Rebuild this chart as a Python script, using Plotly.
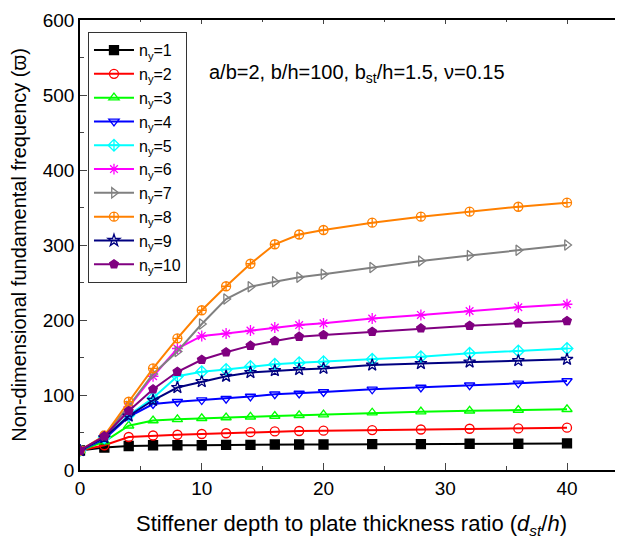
import plotly.graph_objects as go

x_ratio = [0, 2, 4, 6, 8, 10, 12, 14, 16, 18, 20, 24, 28, 32, 36, 40]
series_names = ["n<sub>y</sub>=1", "n<sub>y</sub>=2", "n<sub>y</sub>=3", "n<sub>y</sub>=4", "n<sub>y</sub>=5",
                "n<sub>y</sub>=6", "n<sub>y</sub>=7", "n<sub>y</sub>=8", "n<sub>y</sub>=9", "n<sub>y</sub>=10"]
ny1 = [26, 30, 32, 33, 33, 33, 33.5, 33.5, 34, 34, 34, 34.5, 34.5, 35, 35, 35.5]
ny2 = [26, 33, 44, 46, 47, 48, 49, 50.5, 51.5, 52, 52.4, 53.3, 54, 55, 55.5, 56.4]
ny3 = [26, 38, 59, 66, 67.6, 69, 70, 71, 72, 73, 73.8, 76.4, 77.8, 79, 80, 81]
ny4 = [26, 41, 71, 88, 91, 93.3, 95, 98, 101, 102, 104, 107.6, 110, 113, 115.6, 118.7]
ny5 = [26, 43, 73, 96, 125, 131, 134, 138, 141, 143, 144.4, 147.6, 151, 155.6, 158.7, 162]
ny6 = [26, 45, 84, 125, 162, 178.7, 182, 186, 190, 193.3, 195.6, 202, 206.7, 212, 217, 221]
ny7 = [26, 45, 85, 128, 158, 194.7, 228, 244.4, 251, 257, 261, 270, 278.7, 286, 293, 300]
ny8 = [26, 46, 91, 135.6, 175.6, 213, 245, 275, 301, 314, 320, 329.8, 337.8, 344.4, 351, 356.4]
ny9 = [26, 43, 72, 93, 110, 117.8, 125, 130, 132.4, 134, 135.5, 140, 142, 144, 145.8, 147.6]
ny10 = [26, 45, 78.7, 107.6, 131, 147, 157, 165.8, 172, 177.8, 180, 184.4, 188.9, 192.4, 195.6, 198.7]
all_series = [ny1, ny2, ny3, ny4, ny5, ny6, ny7, ny8, ny9, ny10]

colors = ["#000000", "#FF0000", "#00FF00", "#0000FF", "#00FFFF", "#FF00FF", "#808080", "#FF8000", "#000080", "#800080"]
symbols = ["square", "circle-open", "triangle-up-open", "triangle-down-open", "diamond-cross-open",
           "asterisk-open", "triangle-right-open", "circle-cross-open", "star-open", "pentagon"]

fig = go.Figure()
for name, ys, c, s in zip(series_names, all_series, colors, symbols):
    fig.add_trace(go.Scatter(
        x=x_ratio, y=ys, name=name, mode="lines+markers",
        line=dict(color=c, width=2),
        marker=dict(symbol=s, size=9, color=c, line=dict(color=c, width=1.3)),
    ))

# invisible trace to activate the top axis
fig.add_trace(go.Scatter(x=[0], y=[0], xaxis="x2", showlegend=False, hoverinfo="skip",
                         mode="markers", marker=dict(opacity=0)))

font_family = "Liberation Sans, Arial, sans-serif"
fig.update_layout(
    width=615, height=531,
    margin=dict(l=72, r=0, t=12, b=69, autoexpand=False),
    paper_bgcolor="white", plot_bgcolor="white",
    font=dict(family=font_family, size=17, color="black"),
    xaxis=dict(range=[0, 44.6], dtick=10, tick0=0, ticks="inside", ticklen=7, tickwidth=1.2,
               showline=True, linecolor="black", linewidth=1.5, showgrid=False, zeroline=False,
               minor=dict(dtick=5, ticks="inside", ticklen=4, tickwidth=1.2),
               tickfont=dict(size=19), automargin=False,
               title=dict(text="Stiffener depth to plate thickness ratio (<i>d</i><sub><i>st</i></sub>/<i>h</i>)",
                          font=dict(size=22), standoff=18)),
    xaxis2=dict(overlaying="x", side="top", matches="x", showticklabels=False,
                ticks="inside", ticklen=4, tickwidth=1.2, dtick=10, tick0=0,
                minor=dict(dtick=5, ticks="inside", ticklen=2),
                showline=True, linecolor="black", linewidth=1.5, showgrid=False, zeroline=False),
    yaxis=dict(range=[0, 600], dtick=100, ticks="inside", ticklen=7, tickwidth=1.2,
               showline=True, linecolor="black", linewidth=1.5, showgrid=False, zeroline=False,
               minor=dict(dtick=50, ticks="inside", ticklen=4, tickwidth=1.2),
               tickfont=dict(size=19), automargin=False,
               title=dict(text="Non-dimensional fundamental frequency (ϖ)", font=dict(size=20), standoff=12)),
    legend=dict(x=0.0147, y=0.973, xanchor="left", yanchor="top",
                bordercolor="#333333", borderwidth=1, bgcolor="white",
                font=dict(size=16), tracegroupgap=0, itemwidth=40),
    annotations=[dict(text="a/b=2, b/h=100, b<sub>st</sub>/h=1.5, ν=0.15",
                      xref="paper", yref="paper", x=0.234, y=0.882, xanchor="left", yanchor="middle",
                      showarrow=False, font=dict(size=20))],
)

fig.write_html("out.html")
